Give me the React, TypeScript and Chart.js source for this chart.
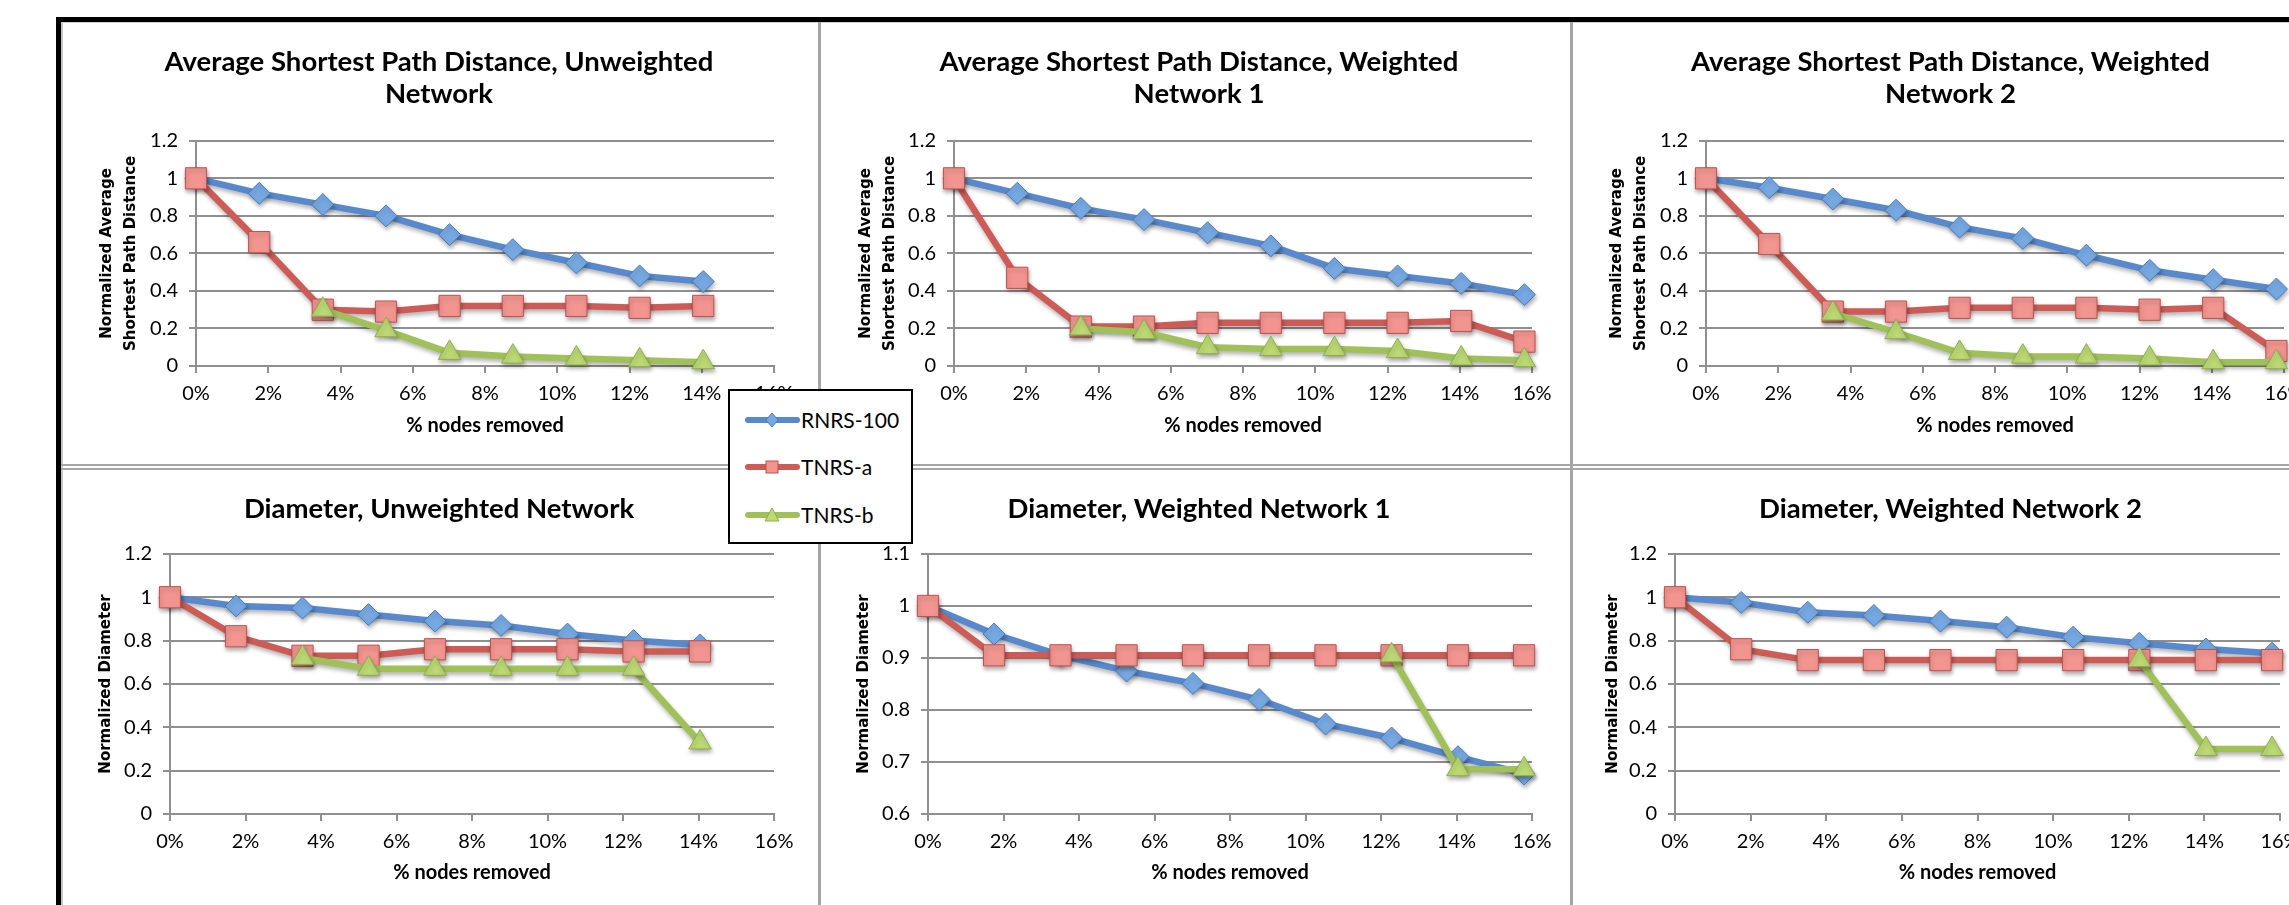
import React, { useEffect, useRef } from 'react';
import { Chart, registerables } from 'chart.js';

Chart.register(...registerables);

// ---------- data ----------
const SERIES_NAMES = ['RNRS-100', 'TNRS-a', 'TNRS-b'];
const X_PCT = [0, 1.75, 3.51, 5.26, 7.02, 8.77, 10.53, 12.28, 14.04, 15.79];
const X_TITLE = '% nodes removed';

const ASPD_UNW_TITLE = ['Average Shortest Path Distance, Unweighted', 'Network'];
const ASPD_W1_TITLE = ['Average Shortest Path Distance, Weighted', 'Network 1'];
const ASPD_W2_TITLE = ['Average Shortest Path Distance, Weighted', 'Network 2'];
const DIAM_UNW_TITLE = 'Diameter, Unweighted Network';
const DIAM_W1_TITLE = 'Diameter, Weighted Network 1';
const DIAM_W2_TITLE = 'Diameter, Weighted Network 2';
const ASPD_Y_TITLE = ['Normalized Average', 'Shortest Path Distance'];
const DIAM_Y_TITLE = 'Normalized Diameter';

const ASPD_UNW_RNRS = [1.0, 0.92, 0.86, 0.8, 0.7, 0.62, 0.55, 0.48, 0.45];
const ASPD_UNW_TNRSA = [1.0, 0.66, 0.3, 0.29, 0.32, 0.32, 0.32, 0.31, 0.32];
const ASPD_UNW_TNRSB = [null, null, 0.3, 0.19, 0.07, 0.05, 0.04, 0.03, 0.02];

const ASPD_W1_RNRS = [1.0, 0.92, 0.84, 0.78, 0.71, 0.64, 0.52, 0.48, 0.44, 0.38];
const ASPD_W1_TNRSA = [1.0, 0.47, 0.21, 0.21, 0.23, 0.23, 0.23, 0.23, 0.24, 0.13];
const ASPD_W1_TNRSB = [null, null, 0.2, 0.18, 0.1, 0.09, 0.09, 0.08, 0.04, 0.03];

const ASPD_W2_RNRS = [1.0, 0.95, 0.89, 0.83, 0.74, 0.68, 0.59, 0.51, 0.46, 0.41];
const ASPD_W2_TNRSA = [1.0, 0.65, 0.29, 0.29, 0.31, 0.31, 0.31, 0.3, 0.31, 0.08];
const ASPD_W2_TNRSB = [null, null, 0.28, 0.18, 0.07, 0.05, 0.05, 0.04, 0.02, 0.02];

const DIAM_UNW_RNRS = [1.0, 0.96, 0.95, 0.92, 0.89, 0.87, 0.83, 0.8, 0.78];
const DIAM_UNW_TNRSA = [1.0, 0.82, 0.73, 0.73, 0.76, 0.76, 0.76, 0.75, 0.75];
const DIAM_UNW_TNRSB = [null, null, 0.72, 0.67, 0.67, 0.67, 0.67, 0.67, 0.33];

const DIAM_W1_RNRS = [1.0, 0.946, 0.905, 0.875, 0.851, 0.82, 0.773, 0.746, 0.71, 0.677];
const DIAM_W1_TNRSA = [1.0, 0.905, 0.905, 0.905, 0.905, 0.905, 0.905, 0.905, 0.905, 0.905];
const DIAM_W1_TNRSB = [null, null, null, null, null, null, null, 0.905, 0.686, 0.686];

const DIAM_W2_RNRS = [1.0, 0.976, 0.931, 0.916, 0.89, 0.862, 0.816, 0.788, 0.761, 0.742];
const DIAM_W2_TNRSA = [1.0, 0.76, 0.71, 0.71, 0.71, 0.71, 0.71, 0.71, 0.71, 0.71];
const DIAM_W2_TNRSB = [null, null, null, null, null, null, null, 0.71, 0.3, 0.3];

// ---------- styles ----------
const BLUE_LINE = '#5789cc';
const BLUE_FILL = '#76a8e2';
const BLUE_EDGE = '#4a7bbb';
const RED_LINE = '#cd5c57';
const RED_FILL = '#f29590';
const RED_EDGE = '#c0504d';
const GREEN_LINE = '#a0c15a';
const GREEN_FILL = '#bcd974';
const GREEN_EDGE = '#8eae4b';
const GRID = '#8f8f8f';
const SEP = '#a6a6a6';

const shadowPlugin = {
  id: 'excelShadow',
  beforeDatasetsDraw(chart: any) {
    const ctx = chart.ctx;
    ctx.save();
    ctx.shadowColor = 'rgba(0,0,0,0.3)';
    ctx.shadowBlur = 4;
    ctx.shadowOffsetX = 1;
    ctx.shadowOffsetY = 3;
  },
  afterDatasetsDraw(chart: any) {
    chart.ctx.restore();
  },
};

function toPoints(xs: number[], ys: (number | null)[]) {
  const out: { x: number; y: number }[] = [];
  ys.forEach((v, i) => {
    if (v !== null && v !== undefined) out.push({ x: xs[i], y: v });
  });
  return out;
}

type PanelSpec = {
  x: number; y: number; w: number; h: number;
  title: string | string[];
  yTitle: string | string[];
  yMin: number; yMax: number; yStep: number;
  rnrs: (number | null)[]; tnrsA: (number | null)[]; tnrsB: (number | null)[];
  yAxisW: number; yTitlePad: number; rightPad: number;
  titleTop: number; titleBottom: number;
  xAxisH: number; xTitleBottom: number;
};

function Panel({ spec }: { spec: PanelSpec }) {
  const ref = useRef<HTMLCanvasElement>(null);
  useEffect(() => {
    const s = spec;
    const tickFont = { family: 'Lato', size: 20 };
    const chart = new Chart(ref.current!, {
      type: 'line',
      data: {
        datasets: [
          {
            label: SERIES_NAMES[0],
            data: toPoints(X_PCT, s.rnrs),
            borderColor: BLUE_LINE,
            backgroundColor: BLUE_FILL,
            pointStyle: 'rectRot',
            pointRadius: 11,
            pointBackgroundColor: BLUE_FILL,
            pointBorderColor: BLUE_EDGE,
            pointBorderWidth: 1,
            borderWidth: 6.5,
            order: 3,
            clip: false as any,
          },
          {
            label: SERIES_NAMES[1],
            data: toPoints(X_PCT, s.tnrsA),
            borderColor: RED_LINE,
            backgroundColor: RED_FILL,
            pointStyle: 'rect',
            pointRadius: 15,
            pointBackgroundColor: RED_FILL,
            pointBorderColor: RED_EDGE,
            pointBorderWidth: 1,
            borderWidth: 6.5,
            order: 2,
            clip: false as any,
          },
          {
            label: SERIES_NAMES[2],
            data: toPoints(X_PCT, s.tnrsB),
            borderColor: GREEN_LINE,
            backgroundColor: GREEN_FILL,
            pointStyle: 'triangle',
            pointRadius: 13,
            pointBackgroundColor: GREEN_FILL,
            pointBorderColor: GREEN_EDGE,
            pointBorderWidth: 1,
            borderWidth: 6.5,
            order: 1,
            clip: false as any,
          },
        ],
      },
      options: {
        animation: false,
        responsive: false,
        devicePixelRatio: 1,
        layout: { padding: 0 },
        elements: { line: { tension: 0, borderJoinStyle: 'round', borderCapStyle: 'round' } },
        plugins: {
          legend: { display: false },
          tooltip: { enabled: false },
          title: {
            display: true,
            text: s.title,
            color: '#000',
            font: { family: 'Lato', weight: 'bold', size: 27.5, lineHeight: 1.16 },
            padding: { top: s.titleTop, bottom: s.titleBottom },
          },
        },
        scales: {
          x: {
            type: 'linear',
            min: 0,
            max: 16,
            ticks: {
              stepSize: 2,
              autoSkip: false,
              maxRotation: 0,
              color: '#000',
              font: tickFont,
              padding: 9,
              callback: (v: any) => `${v}%`,
            },
            grid: { drawOnChartArea: false, drawTicks: true, tickLength: 7, color: GRID, lineWidth: 2 },
            border: { display: true, color: GRID, width: 2 },
            title: {
              display: true,
              text: X_TITLE,
              color: '#000',
              font: { family: 'Lato', weight: 'bold', size: 20, lineHeight: 1.2 },
              padding: { top: 0, bottom: s.xTitleBottom },
            },
            afterFit: (sc: any) => {
              sc.height = s.xAxisH;
              sc.paddingRight = s.rightPad;
            },
          },
          y: {
            type: 'linear',
            min: s.yMin,
            max: s.yMax,
            ticks: {
              stepSize: s.yStep,
              color: '#000',
              font: tickFont,
              padding: 11,
              callback: (v: any) => String(Math.round(Number(v) * 10) / 10),
            },
            grid: { color: GRID, lineWidth: 2, tickLength: 7 },
            border: { display: true, color: GRID, width: 2 },
            title: {
              display: true,
              text: s.yTitle,
              color: '#000',
              font: { family: "'DejaVu Sans', Verdana, sans-serif", weight: 'bold', size: 15, lineHeight: '24px' },
              padding: { top: s.yTitlePad, bottom: 0 },
            },
            afterFit: (sc: any) => {
              sc.width = s.yAxisW;
            },
          },
        },
      } as any,
      plugins: [shadowPlugin],
    });
    return () => chart.destroy();
  }, [spec]);
  return (
    <canvas
      ref={ref}
      width={spec.w}
      height={spec.h}
      style={{ position: 'absolute', left: spec.x, top: spec.y, width: spec.w, height: spec.h, display: 'block' }}
    />
  );
}

const TOP = { y: 23, h: 440, titleTop: 23, titleBottom: 31, xAxisH: 97, xTitleBottom: 25 };
const BOT = { y: 471, h: 434, titleTop: 22, titleBottom: 29, xAxisH: 91, xTitleBottom: 20 };

const PANELS: PanelSpec[] = [
  { ...TOP, x: 62, w: 754, title: ASPD_UNW_TITLE, yTitle: ASPD_Y_TITLE, yMin: 0, yMax: 1.2, yStep: 0.2,
    rnrs: ASPD_UNW_RNRS, tnrsA: ASPD_UNW_TNRSA, tnrsB: ASPD_UNW_TNRSB, yAxisW: 134, yTitlePad: 33, rightPad: 42 },
  { ...TOP, x: 821, w: 756, title: ASPD_W1_TITLE, yTitle: ASPD_Y_TITLE, yMin: 0, yMax: 1.2, yStep: 0.2,
    rnrs: ASPD_W1_RNRS, tnrsA: ASPD_W1_TNRSA, tnrsB: ASPD_W1_TNRSB, yAxisW: 133, yTitlePad: 33, rightPad: 45 },
  { ...TOP, x: 1573, w: 755, title: ASPD_W2_TITLE, yTitle: ASPD_Y_TITLE, yMin: 0, yMax: 1.2, yStep: 0.2,
    rnrs: ASPD_W2_RNRS, tnrsA: ASPD_W2_TNRSA, tnrsB: ASPD_W2_TNRSB, yAxisW: 133, yTitlePad: 32, rightPad: 44 },
  { ...BOT, x: 62, w: 754, title: DIAM_UNW_TITLE, yTitle: DIAM_Y_TITLE, yMin: 0, yMax: 1.2, yStep: 0.2,
    rnrs: DIAM_UNW_RNRS, tnrsA: DIAM_UNW_TNRSA, tnrsB: DIAM_UNW_TNRSB, yAxisW: 108, yTitlePad: 32, rightPad: 42 },
  { ...BOT, x: 821, w: 756, title: DIAM_W1_TITLE, yTitle: DIAM_Y_TITLE, yMin: 0.6, yMax: 1.1, yStep: 0.1,
    rnrs: DIAM_W1_RNRS, tnrsA: DIAM_W1_TNRSA, tnrsB: DIAM_W1_TNRSB, yAxisW: 107, yTitlePad: 31, rightPad: 45 },
  { ...BOT, x: 1573, w: 755, title: DIAM_W2_TITLE, yTitle: DIAM_Y_TITLE, yMin: 0, yMax: 1.2, yStep: 0.2,
    rnrs: DIAM_W2_RNRS, tnrsA: DIAM_W2_TNRSA, tnrsB: DIAM_W2_TNRSB, yAxisW: 102, yTitlePad: 28, rightPad: 48 },
];

function LegendIcon({ idx }: { idx: number }) {
  const line = [BLUE_LINE, RED_LINE, GREEN_LINE][idx];
  const fill = [BLUE_FILL, RED_FILL, GREEN_FILL][idx];
  const edge = [BLUE_EDGE, RED_EDGE, GREEN_EDGE][idx];
  let marker: React.ReactNode;
  if (idx === 0) marker = <polygon points="27,3 33,10 27,17 21,10" fill={fill} stroke={edge} strokeWidth={1} />;
  else if (idx === 1) marker = <rect x={21} y={4} width={12} height={12} fill={fill} stroke={edge} strokeWidth={1} />;
  else marker = <polygon points="27,3 34,16 20,16" fill={fill} stroke={edge} strokeWidth={1} />;
  return (
    <svg width={55} height={20} style={{ display: 'block' }}>
      <line x1={3} y1={10} x2={52} y2={10} stroke={line} strokeWidth={6} strokeLinecap="round" />
      {marker}
    </svg>
  );
}

export default function App() {
  useEffect(() => {
    document.body.style.margin = '0';
    document.body.style.overflow = 'hidden';
  }, []);
  const rows = [31, 78, 126];
  return (
    <div style={{ position: 'absolute', left: 0, top: 0, width: 2289, height: 905, overflow: 'hidden', background: '#fff' }}>
      {/* frame */}
      <div style={{ position: 'absolute', left: 56, top: 17, width: 2289 - 56, height: 5, background: '#000' }} />
      <div style={{ position: 'absolute', left: 56, top: 17, width: 5, height: 905 - 17, background: '#000' }} />
      <div style={{ position: 'absolute', left: 61, top: 22, width: 2289 - 61, height: 1, background: '#d0d0d0' }} />
      <div style={{ position: 'absolute', left: 61, top: 22, width: 2, height: 905 - 22, background: '#c8c8c8' }} />
      <div style={{ position: 'absolute', left: 818, top: 22, width: 3, height: 905 - 22, background: SEP }} />
      <div style={{ position: 'absolute', left: 1570, top: 22, width: 3, height: 905 - 22, background: SEP }} />
      <div style={{ position: 'absolute', left: 61, top: 464, width: 2289 - 61, height: 2, background: SEP }} />
      <div style={{ position: 'absolute', left: 61, top: 468, width: 2289 - 61, height: 2, background: SEP }} />
      {PANELS.map((p, i) => (
        <Panel key={i} spec={p} />
      ))}
      {/* legend */}
      <div
        style={{
          position: 'absolute', left: 728, top: 389, width: 185, height: 155, boxSizing: 'border-box',
          border: '2px solid #000', background: '#fff', zIndex: 5,
        }}
      >
        {SERIES_NAMES.map((name, i) => (
          <div
            key={name}
            style={{ position: 'absolute', left: 15, top: rows[i] - 12 - 2, height: 24, display: 'flex', alignItems: 'center' }}
          >
            <LegendIcon idx={i} />
            <span style={{ fontFamily: 'Lato', fontSize: 21, color: '#000', marginLeft: 1, lineHeight: '24px', whiteSpace: 'nowrap' }}>
              {name}
            </span>
          </div>
        ))}
      </div>
    </div>
  );
}
